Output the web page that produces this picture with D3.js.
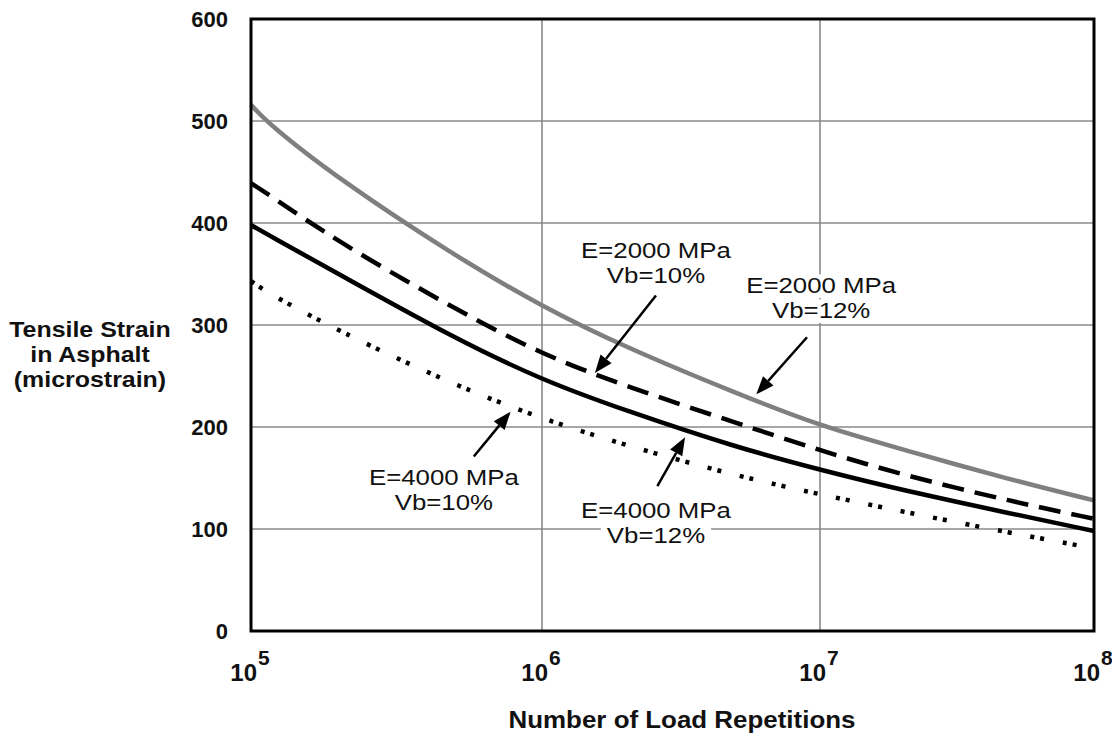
<!DOCTYPE html>
<html>
<head>
<meta charset="utf-8">
<script src="https://cdn.jsdelivr.net/npm/d3@7"></script>
<style>
  html, body { margin: 0; padding: 0; background: #fff; }
  svg { display: block; }
  text { font-family: "Liberation Sans", Arial, sans-serif; }
</style>
</head>
<body>
<svg id="chart" width="1112" height="736"></svg>
<script>
// ---- data ----
const repetitions = [1e5, 1.15e5, 2e5, 5e5, 1e6, 2e6, 5e6, 1e7, 2e7, 5e7, 1e8];
const strainE2000Vb12 = [516, 497, 443, 368, 318, 278, 233, 201, 178, 148, 128];
const strainE2000Vb10 = [439, 428, 381, 316, 271, 240, 204, 177, 153, 127, 110];
const strainE4000Vb12 = [398, 388, 350, 287, 246, 216, 180, 158, 138, 115, 98];
const strainE4000Vb10 = [343, 331, 294, 241, 208, 182, 152, 134, 117, 96, 81];

const yTicks = [0, 100, 200, 300, 400, 500, 600];
const xTicks = [1e5, 1e6, 1e7, 1e8];
const xTickExponents = ["5", "6", "7", "8"];

const labelLines = [
  ["E=2000 MPa", "Vb=10%"],
  ["E=2000 MPa", "Vb=12%"],
  ["E=4000 MPa", "Vb=10%"],
  ["E=4000 MPa", "Vb=12%"]
];
const labelN = [2.57e6, 1.01e7, 4.6e5, 2.57e6];
const labelStrain = [366, 331, 143, 111];

const arrowTailN = [2.57e6, 8.98e6, 5.83e5, 2.6e6];
const arrowTailStrain = [329, 288, 171, 142];
const arrowTipN = [1.55e6, 5.9e6, 7.8e5, 3.27e6];
const arrowTipStrain = [253, 232, 215, 190];

// ---- scales ----
const svg = d3.select("#chart");
const x = d3.scaleLog().domain([1e5, 1e6, 1e7, 1e8]).range([251, 542, 820, 1094]);
const y = d3.scaleLinear().domain([0, 600]).range([631, 19]);

// grid
svg.append("g").selectAll("line").data(yTicks.filter(d => d > 0 && d < 600)).join("line")
  .attr("x1", x(1e5)).attr("x2", x(1e8))
  .attr("y1", d => y(d)).attr("y2", d => y(d))
  .attr("stroke", "#8a8a8a").attr("stroke-width", 1.6);
svg.append("g").selectAll("line").data([1e6, 1e7]).join("line")
  .attr("x1", d => x(d)).attr("x2", d => x(d))
  .attr("y1", y(0)).attr("y2", y(600))
  .attr("stroke", "#8a8a8a").attr("stroke-width", 1.6);

// y axis tick labels
const yAxis = d3.axisLeft(y).tickValues(yTicks).tickSize(0).tickPadding(23).tickFormat(d3.format("d"));
const yg = svg.append("g").attr("transform", `translate(${x(1e5)},0)`).call(yAxis);
yg.select(".domain").remove();
yg.selectAll("text").attr("font-size", 22).attr("font-weight", "bold")
  .attr("font-family", "Liberation Sans, Arial, sans-serif").attr("fill", "#111");

// x axis tick labels with superscript
const xg = svg.append("g");
xTicks.forEach((t, i) => {
  xg.append("text").attr("x", x(t) + 6).attr("y", 681)
    .attr("text-anchor", "end").attr("font-size", 24).attr("font-weight", "bold").attr("fill", "#111")
    .text("10");
  xg.append("text").attr("x", x(t) + 7).attr("y", 665)
    .attr("font-size", 21).attr("font-weight", "bold").attr("fill", "#111")
    .text(xTickExponents[i]);
});

// axis titles
svg.append("text").attr("x", 682).attr("y", 728).attr("text-anchor", "middle")
  .attr("font-size", 24).attr("font-weight", "bold").attr("fill", "#111")
  .attr("transform", "translate(682,0) scale(1.08,1) translate(-682,0)")
  .text("Number of Load Repetitions");
const yt = svg.append("text").attr("text-anchor", "middle")
  .attr("font-size", 21.5).attr("font-weight", "bold").attr("fill", "#111")
  .attr("transform", "translate(90,0) scale(1.16,1) translate(-90,0)");
["Tensile Strain", "in Asphalt", "(microstrain)"].forEach((s, i) => {
  yt.append("tspan").attr("x", 90).attr("y", 337 + i * 25).text(s);
});

// curves
const line = d3.line().x((d, i) => x(repetitions[i])).y(d => y(d)).curve(d3.curveBasis);
const series = [
  { v: strainE2000Vb12, color: "#7f7f7f", dash: null, w: 4.5 },
  { v: strainE2000Vb10, color: "#000", dash: "22,11", w: 4.5 },
  { v: strainE4000Vb12, color: "#000", dash: null, w: 4.5 },
  { v: strainE4000Vb10, color: "#000", dash: "4,6,4,19", w: 4.5 }
];
svg.append("g").selectAll("path").data(series).join("path")
  .attr("d", d => line(d.v))
  .attr("fill", "none")
  .attr("stroke", d => d.color)
  .attr("stroke-width", d => d.w)
  .attr("stroke-dasharray", d => d.dash);

// frame
svg.append("rect").attr("x", x(1e5)).attr("y", y(600))
  .attr("width", x(1e8) - x(1e5)).attr("height", y(0) - y(600))
  .attr("fill", "none").attr("stroke", "#000").attr("stroke-width", 3);

// labels
const lg = svg.append("g");
labelLines.forEach((lines, i) => {
  const cx = x(labelN[i]);
  const g = lg.append("g").attr("transform", `translate(${cx},0) scale(1.2,1) translate(${-cx},0)`);
  const texts = lines.map((s, j) => g.append("text")
    .attr("x", cx).attr("y", y(labelStrain[i]) + j * 25)
    .attr("text-anchor", "middle").attr("font-size", 21.5).attr("fill", "#111")
    .text(s));
  texts.forEach(t => {
    const b = t.node().getBBox();
    g.insert("rect", "text").attr("x", b.x - 5).attr("y", b.y)
      .attr("width", b.width + 10).attr("height", b.height).attr("fill", "#fff");
  });
});

// arrows
const ag = svg.append("g");
arrowTipN.forEach((n, i) => {
  const x1 = x(arrowTailN[i]), y1 = y(arrowTailStrain[i]);
  const x2 = x(n), y2 = y(arrowTipStrain[i]);
  const ang = Math.atan2(y2 - y1, x2 - x1);
  const L = 18, W = 7;
  const bx = x2 - L * Math.cos(ang), by = y2 - L * Math.sin(ang);
  ag.append("line").attr("x1", x1).attr("y1", y1).attr("x2", bx).attr("y2", by)
    .attr("stroke", "#000").attr("stroke-width", 2.5);
  const p = [[x2, y2],
    [bx + W * Math.sin(ang), by - W * Math.cos(ang)],
    [bx - W * Math.sin(ang), by + W * Math.cos(ang)]];
  ag.append("polygon").attr("points", p.map(q => q.join(",")).join(" ")).attr("fill", "#000");
});
</script>
</body>
</html>
